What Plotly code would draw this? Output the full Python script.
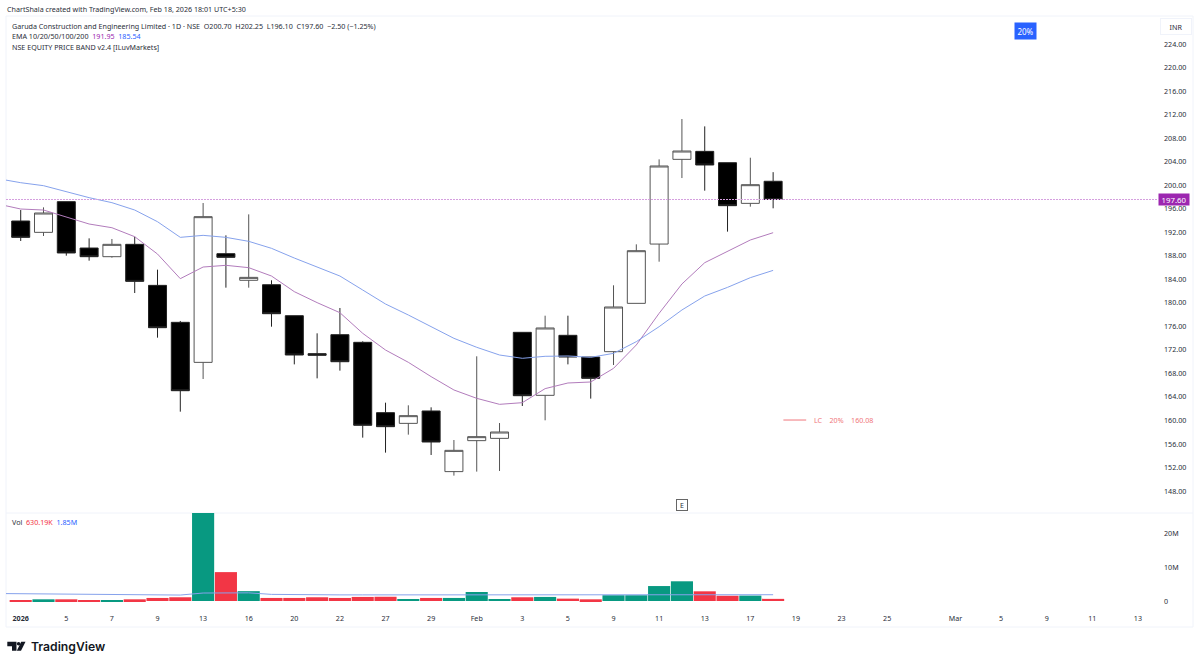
import plotly.graph_objects as go

# OHLC, one row per trading day (Jan 1 -> Feb 18 2026)
opens = [193.94, 192.01, 197.23, 189.34, 187.87, 189.97, 182.99, 176.70, 169.89, 188.38, 183.85, 183.10,
         177.83, 171.37, 174.60, 173.30, 161.33, 159.51, 161.62, 151.30, 156.57, 156.96, 175.00, 164.28,
         174.49, 170.80, 171.71, 179.93, 190.02, 204.43, 205.79, 203.86, 196.94, 200.70]
highs = [195.81, 196.26, 197.23, 190.99, 190.88, 191.27, 185.66, 176.93, 197.00, 191.50, 195.07, 183.85,
         177.83, 174.83, 179.14, 173.47, 163.03, 162.58, 162.24, 156.68, 170.92, 159.57, 175.00, 177.83,
         177.83, 170.80, 183.00, 189.97, 204.43, 211.29, 210.04, 203.86, 204.71, 202.25]
lows = [190.54, 191.39, 188.04, 187.19, 187.70, 181.69, 174.09, 161.50, 167.06, 182.60, 182.60, 175.96,
        169.55, 167.17, 168.48, 157.08, 154.53, 157.59, 154.13, 150.62, 151.30, 151.41, 162.47, 160.03,
        169.55, 163.72, 169.44, 179.93, 187.02, 201.25, 199.10, 192.13, 196.38, 196.10]
closes = [191.16, 195.30, 188.50, 187.87, 189.97, 183.67, 175.79, 165.07, 194.68, 187.76, 184.35, 178.17,
          171.14, 171.09, 170.00, 159.18, 158.95, 160.82, 156.34, 154.92, 157.25, 158.04, 164.22, 175.74,
          170.80, 167.17, 179.31, 188.89, 203.30, 205.85, 203.47, 196.55, 200.12, 197.60]
# in millions, the Jan 13 bar runs off the top of the pane
volumes = [0.3, 0.5, 0.5, 0.3, 0.3, 0.5, 0.9, 1.1, 30.0, 8.5, 2.9, 0.9, 0.9, 1.1, 0.9, 1.2, 1.25,
           0.6, 0.9, 0.9, 2.65, 0.6, 1.1, 1.2, 0.7, 0.5, 1.7, 1.7, 4.4, 5.8, 2.85, 1.55, 1.6, 0.63]
# the averages start one day before the first candle, off the left edge
vol_ma = [2.2, 2.15, 2.1, 2.05, 2.0, 1.9, 1.85, 1.8, 1.75, 2.35, 2.4, 2.4, 1.95, 1.85, 1.8, 1.8, 1.8, 1.8,
          1.8, 1.8, 1.8, 1.76, 1.76, 1.76, 1.76, 1.76, 1.76, 1.76, 1.8, 1.85, 1.9, 1.9, 1.9, 1.85, 1.85]
ema_10 = [196.83, 195.98, 195.81, 194.68, 193.43, 192.80, 191.27, 188.32, 184.13, 186.11, 186.40, 186.00,
          184.58, 181.92, 180.05, 178.34, 174.83, 171.99, 169.90, 167.46, 165.19, 163.77, 162.75, 163.03,
          165.42, 166.38, 166.55, 168.87, 172.85, 178.23, 183.22, 186.85, 188.72, 190.71, 191.95]
ema_20 = [201.14, 200.46, 199.95, 198.93, 197.91, 197.06, 195.81, 193.82, 191.16, 191.50, 191.16, 190.48,
          189.29, 187.64, 186.06, 184.58, 182.20, 179.82, 177.95, 175.96, 173.98, 172.45, 171.14, 170.58,
          170.92, 170.97, 170.75, 171.42, 173.41, 175.96, 178.80, 181.18, 182.65, 184.30, 185.54]

price_ticks = list(range(148, 225, 4))
time_tick_pos = [0, 2, 4, 6, 8, 10, 12, 14, 16, 18, 20, 22, 24, 26, 28, 30, 32, 34, 36, 38, 41, 43, 45, 47, 49]
time_tick_text = ['<b>2026</b>', '5', '7', '9', '13', '16', '20', '22', '27', '29', 'Feb', '3', '5', '9', '11',
                  '13', '17', '19', '23', '25', 'Mar', '5', '9', '11', '13']
vol_tick_vals = [0, 10, 20]
vol_tick_text = ['0', '10M', '20M']
lc_price = 160.08
earnings_day = 29

FONT = 'Noto Sans'
SIZE = 7.15
TEXT = '#2a2e39'
EDGE = '#f0f3fa'
GREEN = '#089981'
RED = '#F23645'
PURPLE = '#9c27b0'
EMA10_COL = '#b27cbc'
EMA20_COL = '#86a2ec'

W, H = 1200, 665
LEFT, RIGHT, TOP, SPLIT, BOTTOM = 6, 1158, 16, 513, 607


# pixel position -> paper fraction, only for the furniture around the chart
def px(x):
    return (x - LEFT) / (RIGHT - LEFT)


def py(y):
    return (BOTTOM - y) / (BOTTOM - TOP)


days = list(range(len(closes)))
ma_days = list(range(-1, len(closes)))
vol_colors = [GREEN if c >= o else RED for o, c in zip(opens, closes)]

fig = go.Figure()

fig.add_trace(go.Candlestick(
    x=days, open=opens, high=highs, low=lows, close=closes,
    increasing=dict(fillcolor='white', line=dict(color='#555555', width=1)),
    decreasing=dict(fillcolor='black', line=dict(color='#222222', width=1)),
    xaxis='x', yaxis='y'
))
fig.add_trace(go.Scatter(x=ma_days, y=ema_10, mode='lines', line=dict(color=EMA10_COL, width=1), xaxis='x', yaxis='y'))
fig.add_trace(go.Scatter(x=ma_days, y=ema_20, mode='lines', line=dict(color=EMA20_COL, width=1), xaxis='x', yaxis='y'))

fig.add_trace(go.Bar(x=days, y=volumes, marker=dict(color=vol_colors, line=dict(width=0)), xaxis='x2', yaxis='y2'))
fig.add_trace(go.Scatter(x=ma_days, y=vol_ma, mode='lines', line=dict(color=EMA20_COL, width=1), xaxis='x2', yaxis='y2'))


def note(x, y, text, size=SIZE, color=TEXT, anchor='left', **kw):
    fig.add_annotation(xref='paper', yref='paper', x=px(x), y=py(y), text=text, showarrow=False,
                       xanchor=anchor, yanchor='middle', borderpad=0,
                       font=dict(family=FONT, size=size, color=color), **kw)


note(6, 9, 'ChartShala created with TradingView.com, Feb 18, 2026 18:01 UTC+5:30')
note(11, 26, 'Garuda Construction and Engineering Limited · 1D · NSE\u00a0\u00a0O200.70\u00a0\u00a0H202.25\u00a0\u00a0'
     'L196.10\u00a0\u00a0C197.60\u00a0\u00a0−2.50 (−1.25%)')
note(11, 36, f'EMA 10/20/50/100/200\u00a0\u00a0<span style="color:{PURPLE}">191.95</span>\u00a0\u00a0'
     '<span style="color:#2962ff">185.54</span>')
note(11, 47, 'NSE EQUITY PRICE BAND v2.4 [ILuvMarkets]')
note(11, 522, f'Vol\u00a0\u00a0<span style="color:{RED}">630.19K</span>\u00a0\u00a0'
     '<span style="color:#2962ff">1.85M</span>')

note(1025.5, 31, '20%', size=8, color='white', anchor='center', bgcolor='#2962ff', width=21, height=16)
note(1175.5, 27, 'INR', anchor='center', bordercolor=EDGE, borderwidth=1, width=30, height=15)
note(1174, 199.4, f'{closes[-1]:.2f}', size=7.8, color='white', anchor='center', bgcolor=PURPLE, width=30, height=11)

fig.add_annotation(xref='paper', yref='paper', x=px(30), y=py(646), text='TradingView', showarrow=False,
                   xanchor='left', yanchor='middle', borderpad=0,
                   font=dict(family='Inter', size=12.2, color='#131722', weight=600))

fig.add_annotation(x=earnings_day, y=145.6, xref='x', yref='y', text='E', showarrow=False,
                   font=dict(family=FONT, size=7, color=TEXT), bordercolor='#666666', borderwidth=1,
                   borderpad=0, width=10, height=10, bgcolor='white')
fig.add_annotation(x=len(closes) + 0.75, y=lc_price, xref='x', yref='y',
                   text=f'LC\u00a0\u00a0\u00a0\u00a020%\u00a0\u00a0\u00a0\u00a0{lc_price}',
                   showarrow=False, xanchor='left', borderpad=0,
                   font=dict(family=FONT, size=SIZE, color='#f0777c'))

shapes = [
    # last price line
    dict(type='line', xref='paper', x0=0, x1=1, yref='y', y0=closes[-1], y1=closes[-1],
         line=dict(color='#d59fdf', width=1, dash='2px,1px')),
    # lower limit band stub
    dict(type='line', xref='x', x0=len(closes) - 0.55, x1=len(closes) + 0.45, yref='y', y0=lc_price, y1=lc_price,
         line=dict(color='#f0777c', width=1)),
]
# chart frame
for x0, y0, x1, y1 in [(6, 16, 1193, 16), (6, 513, 1193, 513), (6, 627, 1193, 627), (6, 16, 6, 627), (1193, 16, 1193, 627)]:
    shapes.append(dict(type='line', xref='paper', yref='paper', x0=px(x0), x1=px(x1), y0=py(y0), y1=py(y1),
                       line=dict(color=EDGE, width=1), layer='below'))


# logo outline, pixel pairs
def logo_path(points):
    return 'M ' + ' L '.join(f'{px(x):.5f} {py(y):.5f}' for x, y in points) + ' Z'


for pts in [[(7.3, 641.7), (16.5, 641.7), (16.5, 650.7), (12, 650.7), (12, 646.2), (7.3, 646.2)],
            [(25.5, 641.7), (21, 650.7), (16.8, 650.7), (21.2, 641.7)]]:
    shapes.append(dict(type='path', xref='paper', yref='paper', path=logo_path(pts), fillcolor='#131722', line=dict(width=0)))
shapes.append(dict(type='circle', xref='paper', yref='paper', x0=px(16.8), x1=px(20.4), y0=py(645.6), y1=py(642),
                   fillcolor='#131722', line=dict(width=0)))

x_range = [-0.645, 49.88]
fig.update_layout(
    width=W, height=H,
    margin=dict(l=LEFT, r=W - RIGHT, t=TOP, b=H - BOTTOM, pad=0),
    paper_bgcolor='white', plot_bgcolor='white',
    showlegend=False, boxgap=0.21, boxgroupgap=0, bargap=0.03,
    font=dict(family=FONT, size=SIZE, color=TEXT),
    shapes=shapes,
    xaxis=dict(domain=[0, 1], range=x_range, anchor='y', showgrid=False, zeroline=False, showticklabels=False,
               rangeslider=dict(visible=False), ticks=''),
    xaxis2=dict(domain=[0, 1], range=x_range, anchor='y2', showgrid=False, zeroline=False, tickmode='array',
                tickvals=time_tick_pos, ticktext=time_tick_text, ticks='', ticklabelstandoff=6, tickangle=0,
                tickfont=dict(family=FONT, size=SIZE, color=TEXT)),
    yaxis=dict(domain=[(BOTTOM - SPLIT) / (BOTTOM - TOP), 1], range=[144.26, 228.82], side='right', anchor='x',
               showgrid=False, zeroline=False, tickmode='array', tickvals=price_ticks,
               ticktext=[f'{v:.2f}' for v in price_ticks], ticks='', ticklabelstandoff=5,
               tickfont=dict(family=FONT, size=SIZE, color=TEXT)),
    yaxis2=dict(domain=[0, (BOTTOM - SPLIT) / (BOTTOM - TOP)], range=[-1.76, 25.88], side='right', anchor='x2',
                showgrid=False, zeroline=False, tickmode='array', tickvals=vol_tick_vals, ticktext=vol_tick_text,
                ticks='', ticklabelstandoff=5, tickfont=dict(family=FONT, size=SIZE, color=TEXT)),
)

fig.write_html('out.html', config=dict(displayModeBar=False),
               post_script="document.body.style.margin='0';document.body.style.overflow='hidden';")
